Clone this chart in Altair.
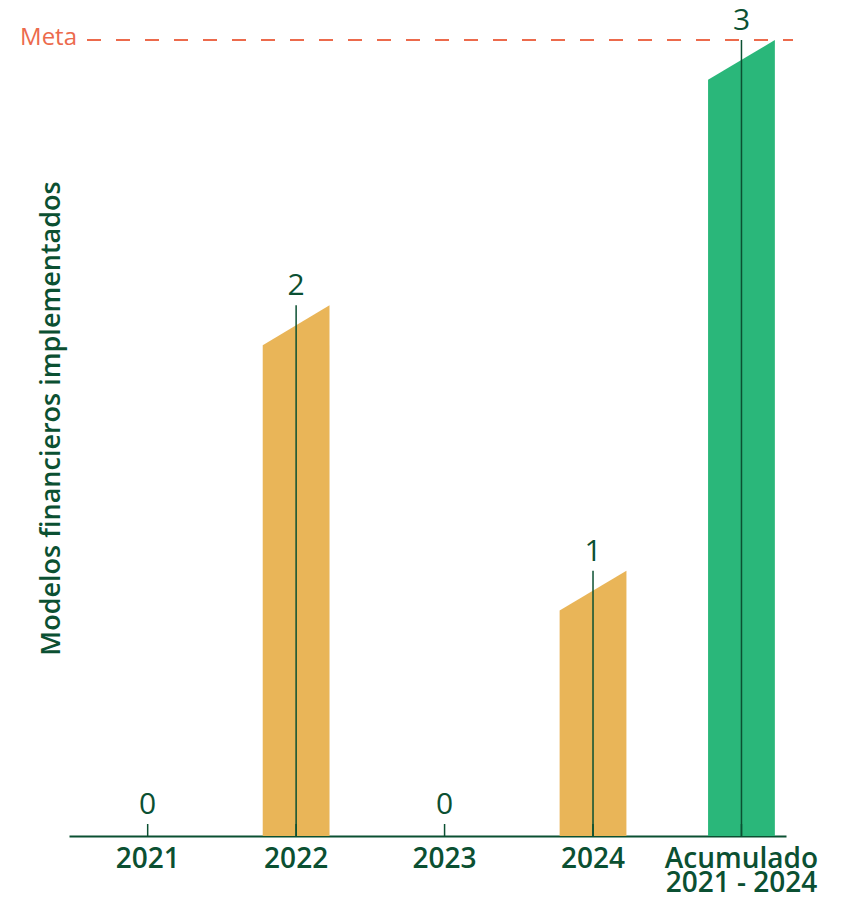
import altair as alt
import pandas as pd

# ---- data ----
categories = ["2021", "2022", "2023", "2024", "Acumulado\n2021 - 2024"]
values = [0, 2, 0, 1, 3]
kinds = ["anual", "anual", "anual", "anual", "acumulado"]
meta_value = [3]
meta_label = ["Meta"]

YELLOW = "#E9B558"
GREEN = "#2AB77A"
DARK = "#0B5032"
ORANGE = "#EC6A4C"
FONT = "Open Sans"

color_of = {"anual": YELLOW, "acumulado": GREEN}
HALF = 0.225   # half bar width in category units
SLANT = 0.15   # drop of the bar's left top edge

base = pd.DataFrame({
    "pos": list(range(len(categories))),
    "cat": categories,
    "value": values,
    "kind": kinds,
})

rows = []
for i, (c, v, k) in enumerate(zip(categories, values, kinds)):
    if v > 0:
        rows.append({"cat": c, "x": i - HALF, "top": v - SLANT, "color": color_of[k]})
        rows.append({"cat": c, "x": i + HALF, "top": v, "color": color_of[k]})
bars_df = pd.DataFrame(rows)

meta_df = pd.DataFrame({"meta": meta_value, "label": meta_label})

W, H = 717, 796
xscale = alt.Scale(domain=[-0.53, 4.3], nice=False, zero=False)
yscale = alt.Scale(domain=[0, 3], nice=False, zero=True)

xaxis = alt.Axis(title=None, labels=False, ticks=False, grid=False,
                 domainColor=DARK, domainWidth=2)
yaxis = alt.Axis(title="Modelos financieros implementados", labels=False, ticks=False,
                 grid=False, domain=False, titleAngle=270, titleX=-18, titleY=378,
                 titleAlign="center", titleBaseline="middle", titleFont=FONT,
                 titleFontSize=27, titleFontWeight=600, titleColor=DARK)

bars = alt.Chart(bars_df).mark_area(interpolate="linear").encode(
    x=alt.X("x:Q", scale=xscale, axis=xaxis),
    y=alt.Y("top:Q", scale=yscale, axis=yaxis),
    y2=alt.datum(0),
    detail="cat:N",
    color=alt.Color("color:N", scale=None),
)

lines = alt.Chart(base).mark_rule(color=DARK, strokeWidth=1.5).encode(
    x=alt.X("pos:Q", scale=xscale),
    y=alt.Y("value:Q", scale=yscale),
    y2=alt.datum(0),
)

ticks = alt.Chart(base).mark_rule(color=DARK, strokeWidth=1.5).encode(
    x=alt.X("pos:Q", scale=xscale),
    y=alt.value(H - 12),
    y2=alt.value(H),
)

labels_pos = alt.Chart(base).transform_filter("datum.value > 0").mark_text(
    font=FONT, fontSize=30, fontWeight=500, color=DARK, baseline="alphabetic", dy=-10
).encode(
    x=alt.X("pos:Q", scale=xscale),
    y=alt.Y("value:Q", scale=yscale),
    text="value:Q",
)

labels_zero = alt.Chart(base).transform_filter("datum.value == 0").mark_text(
    font=FONT, fontSize=30, fontWeight=500, color=DARK, baseline="alphabetic", dy=-22
).encode(
    x=alt.X("pos:Q", scale=xscale),
    y=alt.Y("value:Q", scale=yscale),
    text="value:Q",
)

xlabels = alt.Chart(base).mark_text(
    font=FONT, fontSize=28, fontWeight=600, color=DARK, baseline="alphabetic",
    lineBreak="\n", lineHeight=24
).encode(
    x=alt.X("pos:Q", scale=xscale),
    y=alt.value(H + 32),
    text="cat:N",
)

meta_line = alt.Chart(meta_df).mark_rule(color=ORANGE, strokeWidth=2, strokeDash=[14, 15]).encode(
    y=alt.Y("meta:Q", scale=yscale),
    x=alt.value(18),
    x2=alt.value(724),
)

meta_text = alt.Chart(meta_df).mark_text(
    font=FONT, fontSize=24, fontWeight=500, color=ORANGE, align="right", baseline="middle", dy=-2
).encode(
    y=alt.Y("meta:Q", scale=yscale),
    x=alt.value(8),
    text="label:N",
)

chart = alt.layer(
    bars, lines, ticks, labels_pos, labels_zero, xlabels, meta_line, meta_text
).properties(
    width=W, height=H,
    autosize=alt.AutoSizeParams(type="none"),
    padding={"left": 61, "top": 32, "right": 50, "bottom": 58},
).configure_view(stroke=None)

chart.save("out.html", embed_options={"renderer": "svg", "actions": False})
